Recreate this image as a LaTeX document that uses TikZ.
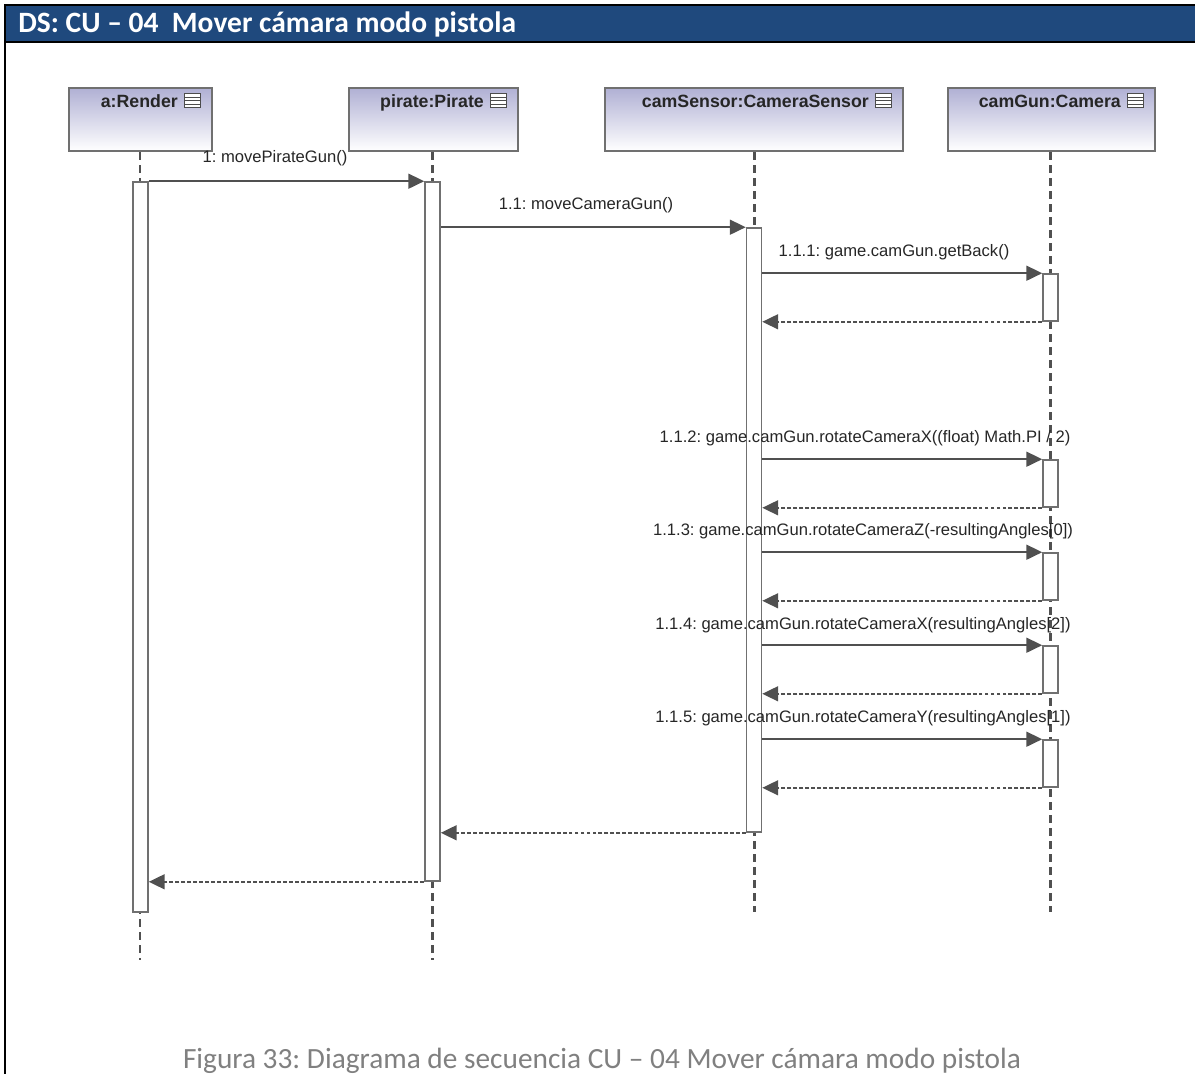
\documentclass[tikz,border=0pt]{standalone}
\usepackage{fontspec}
\setmainfont{Liberation Sans}
\newfontfamily\calibrifont{Carlito}
\usetikzlibrary{arrows.meta,shadings,calc}

\definecolor{hdrblue}{RGB}{31,73,125}
\definecolor{linegray}{RGB}{80,80,80}
\definecolor{boxgray}{RGB}{112,112,112}
\definecolor{headtop}{RGB}{176,176,212}
\definecolor{capgray}{RGB}{128,128,128}

\tikzset{
  headbox/.style={draw=boxgray, line width=1.3pt, top color=headtop, bottom color=white,
    minimum height=63*0.02cm, inner sep=0pt},
  headlabel/.style={font=\fontsize{10.1}{12}\selectfont\bfseries, text=black!85, anchor=base east, inner sep=0pt},
  actbar/.style={draw=boxgray, fill=white, line width=0.9pt, minimum width=15*0.02cm, inner sep=0pt},
  lifeline/.style={draw=linegray, line width=1.7pt, dash pattern=on 4.6pt off 2.8pt},
  callmsg/.style={draw=linegray, line width=0.9pt, -{Triangle[length=9pt,width=8.5pt]}},
  retmsg/.style={draw=linegray, line width=0.9pt, dash pattern=on 2.2pt off 1.2pt, -{Triangle[length=9pt,width=8.5pt]}},
  msglabel/.style={font=\fontsize{9.45}{11}\selectfont, text=black!85, anchor=base, inner sep=0pt},
}

% small compartment icon next to each lifeline name
\newcommand{\compicon}[1]{%
  \draw[black!70, line width=0.6pt, fill=white] ($(#1.north east)+(-29,7)$) rectangle ($(#1.north east)+(-13,21)$);
  \foreach \dy in {10.5,14,17.5}
    \draw[black!70, line width=0.6pt] ($(#1.north east)+(-29,\dy)$) -- ($(#1.north east)+(-13,\dy)$);
}

\begin{document}
\frenchspacing
\begin{tikzpicture}[x=0.02cm, y=-0.02cm]
\useasboundingbox (0,0) rectangle (1195,1074);

% frame and title bar
\fill[hdrblue] (5,5) rectangle (1195,42);
\draw[black, line width=1.6pt] (1195,5) -- (5,5) -- (5,1074);
\draw[black, line width=1.6pt] (5,42) -- (1195,42);
\node[anchor=base west, inner sep=0pt, text=white, font=\calibrifont\bfseries\fontsize{16.8}{20}\selectfont]
  (title) at (18,33) {DS: CU – 04\ \ Mover cámara modo pistola};

% lifeline heads
\node[headbox, minimum width=143*0.02cm] (hR) at (140.5,119.5) {};
\node[headbox, minimum width=169*0.02cm] (hP) at (433.5,119.5) {};
\node[headbox, minimum width=298*0.02cm] (hS) at (754,119.5) {};
\node[headbox, minimum width=207*0.02cm] (hC) at (1051.5,119.5) {};

\node[headlabel] (tR) at ($(hR.north east)+(-35,21)$) {a:Render};
\node[headlabel] (tP) at ($(hP.north east)+(-35,21)$) {pirate:Pirate};
\node[headlabel] (tS) at ($(hS.north east)+(-35,21)$) {camSensor:CameraSensor};
\node[headlabel] (tC) at ($(hC.north east)+(-35,21)$) {camGun:Camera};
\compicon{hR}
\compicon{hP}
\compicon{hS}
\compicon{hC}

% lifeline ends
\coordinate (eR) at (140,960);
\coordinate (eP) at (432,960);
\coordinate (eS) at (754,912);
\coordinate (eC) at (1050,912);

\draw[lifeline] (hR.south -| eR) -- (eR);
\draw[lifeline] (hP.south -| eP) -- (eP);
\draw[lifeline] (hS.south -| eS) -- (eS);
\draw[lifeline] (hC.south -| eC) -- (eC);

% activation bars
\node[actbar, minimum height=730*0.02cm] (aR) at (140.5,547) {};
\node[actbar, minimum height=699*0.02cm] (aP) at (432.5,531.5) {};
\node[actbar, minimum height=604*0.02cm] (aS) at (754,530) {};
\node[actbar, minimum height=47*0.02cm] (c1) at (1050.5,297.5) {};
\node[actbar, minimum height=47*0.02cm] (c2) at (1050.5,483.5) {};
\node[actbar, minimum height=47*0.02cm] (c3) at (1050.5,576.5) {};
\node[actbar, minimum height=47*0.02cm] (c4) at (1050.5,669.5) {};
\node[actbar, minimum height=47*0.02cm] (c5) at (1050.5,763.5) {};

% messages
\draw[callmsg] (aR.north east) -- (aP.north west);
\node[msglabel] (m1) at (275,163) {1: movePirateGun()};

\draw[callmsg] (aP.east |- aS.north) -- (aS.north west);
\node[msglabel] (m11) at (586,210) {1.1: moveCameraGun()};

\draw[callmsg] (aS.east |- c1.north) -- (c1.north west);
\draw[retmsg] (c1.south west) -- (aS.east |- c1.south);
\node[msglabel] (m111) at (894,256) {1.1.1: game.camGun.getBack()};

\draw[callmsg] (aS.east |- c2.north) -- (c2.north west);
\draw[retmsg] (c2.south west) -- (aS.east |- c2.south);
\node[msglabel] (m112) at (865,442) {1.1.2: game.camGun.rotateCameraX((float) Math.PI / 2)};

\draw[callmsg] (aS.east |- c3.north) -- (c3.north west);
\draw[retmsg] (c3.south west) -- (aS.east |- c3.south);
\node[msglabel] (m113) at (863,535) {1.1.3: game.camGun.rotateCameraZ(-resultingAngles[0])};

\draw[callmsg] (aS.east |- c4.north) -- (c4.north west);
\draw[retmsg] (c4.south west) -- (aS.east |- c4.south);
\node[msglabel] (m114) at (863,629) {1.1.4: game.camGun.rotateCameraX(resultingAngles[2])};

\draw[callmsg] (aS.east |- c5.north) -- (c5.north west);
\draw[retmsg] (c5.south west) -- (aS.east |- c5.south);
\node[msglabel] (m115) at (863,722) {1.1.5: game.camGun.rotateCameraY(resultingAngles[1])};

\draw[retmsg] (aS.south west) -- (aP.east |- aS.south);
\draw[retmsg] (aP.south west) -- (aR.east |- aP.south);

% caption
\node[anchor=base, inner sep=0pt, text=capgray, font=\calibrifont\fontsize{16.7}{20}\selectfont]
  (cap) at (602,1068) {Figura 33: Diagrama de secuencia CU – 04 Mover cámara modo pistola};
\end{tikzpicture}
\end{document}
